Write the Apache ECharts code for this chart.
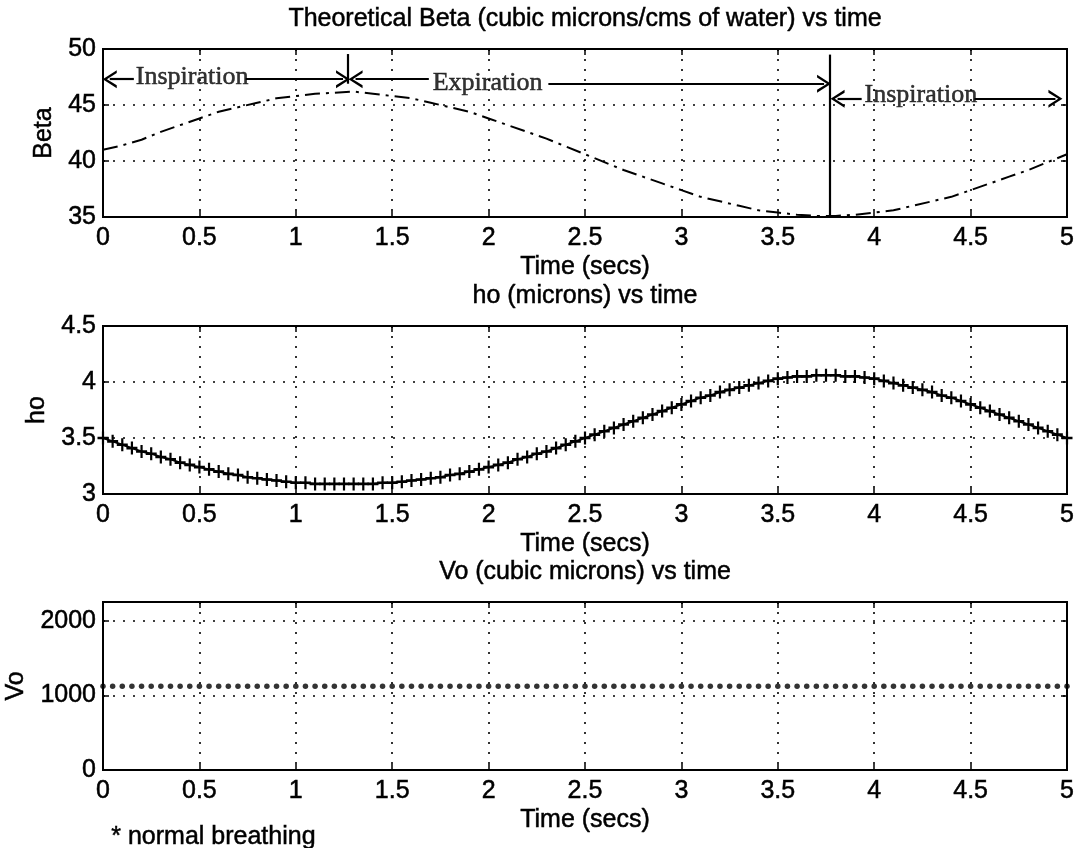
<!DOCTYPE html>
<html>
<head>
<meta charset="utf-8">
<script src="https://cdn.jsdelivr.net/npm/echarts@6/dist/echarts.min.js"></script>
<style>
  html, body { margin: 0; padding: 0; background: #fff; }
  #chart { width: 1078px; height: 848px; }
</style>
</head>
<body>
<div id="chart"></div>
<script>
// --- data ---
const T_BETA = [
  0, 0.1, 0.2, 0.3, 0.4, 0.5, 0.6, 0.7, 0.8, 0.9,
  1.0, 1.1, 1.2, 1.3, 1.4, 1.5, 1.6, 1.7, 1.8, 1.9,
  2.0, 2.1, 2.2, 2.3, 2.4, 2.5, 2.6, 2.7, 2.8, 2.9,
  3.0, 3.1, 3.2, 3.3, 3.4, 3.5, 3.6, 3.7, 3.8, 3.9,
  4.0, 4.1, 4.2, 4.3, 4.4, 4.5, 4.6, 4.7, 4.8, 4.9, 5.0
];
const BETA = [
  41.0, 41.4, 41.9, 42.6, 43.2, 43.8, 44.4, 44.8, 45.2, 45.6,
  45.8, 46.0, 46.1, 46.2, 46.0, 45.8, 45.6, 45.2, 44.8, 44.4,
  43.8, 43.2, 42.6, 42.0, 41.3, 40.6, 39.9, 39.2, 38.6, 38.0,
  37.4, 36.8, 36.4, 36.0, 35.6, 35.4, 35.2, 35.1, 35.1, 35.2,
  35.4, 35.6, 36.0, 36.4, 36.8, 37.4, 38.0, 38.6, 39.2, 39.9, 40.6
];

const T_FINE = [
  0, 0.05, 0.1, 0.15, 0.2, 0.25, 0.3, 0.35, 0.4, 0.45,
  0.5, 0.55, 0.6, 0.65, 0.7, 0.75, 0.8, 0.85, 0.9, 0.95,
  1.0, 1.05, 1.1, 1.15, 1.2, 1.25, 1.3, 1.35, 1.4, 1.45,
  1.5, 1.55, 1.6, 1.65, 1.7, 1.75, 1.8, 1.85, 1.9, 1.95,
  2.0, 2.05, 2.1, 2.15, 2.2, 2.25, 2.3, 2.35, 2.4, 2.45,
  2.5, 2.55, 2.6, 2.65, 2.7, 2.75, 2.8, 2.85, 2.9, 2.95,
  3.0, 3.05, 3.1, 3.15, 3.2, 3.25, 3.3, 3.35, 3.4, 3.45,
  3.5, 3.55, 3.6, 3.65, 3.7, 3.75, 3.8, 3.85, 3.9, 3.95,
  4.0, 4.05, 4.1, 4.15, 4.2, 4.25, 4.3, 4.35, 4.4, 4.45,
  4.5, 4.55, 4.6, 4.65, 4.7, 4.75, 4.8, 4.85, 4.9, 4.95, 5.0
];
const HO = [
  3.50, 3.47, 3.44, 3.41, 3.38, 3.36, 3.33, 3.31, 3.28, 3.26,
  3.24, 3.22, 3.20, 3.18, 3.17, 3.15, 3.14, 3.13, 3.12, 3.11,
  3.10, 3.10, 3.09, 3.09, 3.09, 3.09, 3.09, 3.09, 3.09, 3.10,
  3.10, 3.11, 3.12, 3.13, 3.14, 3.15, 3.17, 3.18, 3.20, 3.22,
  3.24, 3.26, 3.28, 3.31, 3.33, 3.36, 3.38, 3.41, 3.44, 3.47,
  3.50, 3.53, 3.56, 3.59, 3.62, 3.65, 3.68, 3.71, 3.74, 3.77,
  3.80, 3.83, 3.86, 3.88, 3.91, 3.93, 3.95, 3.97, 3.99, 4.01,
  4.03, 4.04, 4.05, 4.05, 4.06, 4.06, 4.06, 4.05, 4.05, 4.04,
  4.03, 4.01, 3.99, 3.97, 3.95, 3.93, 3.91, 3.88, 3.86, 3.83,
  3.80, 3.77, 3.74, 3.71, 3.68, 3.65, 3.62, 3.59, 3.56, 3.53, 3.50
];
const VO = [
  1120, 1120, 1120, 1120, 1120, 1120, 1120, 1120, 1120, 1120,
  1120, 1120, 1120, 1120, 1120, 1120, 1120, 1120, 1120, 1120,
  1120, 1120, 1120, 1120, 1120, 1120, 1120, 1120, 1120, 1120,
  1120, 1120, 1120, 1120, 1120, 1120, 1120, 1120, 1120, 1120,
  1120, 1120, 1120, 1120, 1120, 1120, 1120, 1120, 1120, 1120,
  1120, 1120, 1120, 1120, 1120, 1120, 1120, 1120, 1120, 1120,
  1120, 1120, 1120, 1120, 1120, 1120, 1120, 1120, 1120, 1120,
  1120, 1120, 1120, 1120, 1120, 1120, 1120, 1120, 1120, 1120,
  1120, 1120, 1120, 1120, 1120, 1120, 1120, 1120, 1120, 1120,
  1120, 1120, 1120, 1120, 1120, 1120, 1120, 1120, 1120, 1120, 1120
];

const TITLES = [
  "Theoretical Beta (cubic microns/cms of water) vs time",
  "ho (microns) vs time",
  "Vo (cubic microns) vs time",
];
const Y_NAMES = ["Beta", "ho", "Vo"];
const Y_RANGES = [[35, 50, 5], [3, 4.5, 0.5], [0, 2250, 1000]];  // min, max, interval
const X_NAME = "Time (secs)";
const FOOTNOTE = "* normal breathing";

// annotation on the Beta plot (time, beta)
const NOTE_TEXTS = [[0.17, 47.45, "Inspiration"], [1.71, 46.95, "Expiration"], [3.95, 45.85, "Inspiration"]];
const NOTE_ARROWS = [  // tail -> head
  [0.16, 47.3, 0.035, 47.3],
  [0.74, 47.3, 1.245, 47.3],
  [1.69, 47.3, 1.31, 47.3],
  [2.31, 46.9, 3.74, 46.9],
  [3.935, 45.55, 3.81, 45.55],
  [4.52, 45.55, 4.94, 45.55],
];
const NOTE_VLINES = [[1.27, 49.55, 46.9], [3.77, 49.5, 35]];

// --- layout ---
const SANS = '"Liberation Sans", Arial, Helvetica, sans-serif';
const SERIF = '"Liberation Serif", "Times New Roman", serif';
const GRID_TOPS = [49, 326, 602];
const GRID_H = 168;
const BLACK = "#000";
const CHEVRON = "path://M50,0 L100,100 L84,100 L50,30 L16,100 L0,100 Z";
const PLUS = "path://M40,0H60V40H100V60H60V100H40V60H0V40H40Z";

const chart = echarts.init(document.getElementById("chart"));

const axisLine = { show: true, onZero: false, lineStyle: { color: BLACK, width: 2 } };
const tick = { show: true, inside: true, length: 6, lineStyle: { color: BLACK, width: 1.5 } };
const dotted = { show: true, lineStyle: { color: BLACK, width: 1.6, type: [2, 8] } };
const labelStyle = {
  color: BLACK, fontFamily: SANS, fontSize: 25,
  textBorderColor: BLACK, textBorderWidth: 0.5,
};

// outerBoundsMode 'none': keep every grid at the same fixed box, whatever the label widths
const grids = GRID_TOPS.map(top => ({
  left: 103, right: 11, top, height: GRID_H, outerBoundsMode: "none",
  show: true, borderColor: BLACK, borderWidth: 2, backgroundColor: "#fff",
}));

const NAME_GAPS = [36, 46, 61];
const xAxes = [];
const yAxes = [];
for (let i = 0; i < 3; i++) {
  xAxes.push({
    gridIndex: i, type: "value", position: "bottom", min: 0, max: 5, interval: 0.5,
    name: X_NAME, nameLocation: "middle", nameGap: 38,
    nameTextStyle: { ...labelStyle },
    axisLine, axisTick: tick,
    axisLabel: { ...labelStyle, margin: 9 },
    splitLine: dotted,
  });
  const [min, max, interval] = Y_RANGES[i];
  yAxes.push({
    gridIndex: i, type: "value", position: "left", min, max, interval,
    name: Y_NAMES[i], nameLocation: "middle", nameGap: NAME_GAPS[i],
    nameTextStyle: { ...labelStyle },
    axisLine, axisTick: tick,
    axisLabel: { ...labelStyle, margin: 7, formatter: v => (v > 2000 && i === 2 ? "" : String(v)) },
    splitLine: dotted,
  });
}
for (let i = 0; i < 3; i++) {
  xAxes.push({
    gridIndex: i, type: "value", position: "top", min: 0, max: 5, interval: 0.5,
    axisLine, axisTick: tick, axisLabel: { show: false }, splitLine: { show: false },
  });
  const [min, max, interval] = Y_RANGES[i];
  yAxes.push({
    gridIndex: i, type: "value", position: "right", min, max, interval,
    axisLine, axisTick: tick, axisLabel: { show: false }, splitLine: { show: false },
  });
}

const zip = (xs, ys) => xs.map((x, k) => [x, ys[k]]);

chart.setOption({
  animation: false,
  title: TITLES.map((text, i) => ({
    text, left: 585, top: GRID_TOPS[i] - 42, textAlign: "center", padding: 0,
    textStyle: { ...labelStyle, fontWeight: "normal" },
  })),
  graphic: [{
    type: "text", left: 111, top: 824,
    style: { text: FOOTNOTE, fill: BLACK, font: `25px ${SANS}`, stroke: BLACK, lineWidth: 0.5 },
  }],
  grid: grids,
  xAxis: xAxes,
  yAxis: yAxes,
  series: [
    {
      name: "Beta", type: "line", xAxisIndex: 0, yAxisIndex: 0,
      data: zip(T_BETA, BETA), showSymbol: false, z: 3,
      lineStyle: { color: BLACK, width: 2, type: [15, 6, 3, 6] },
      markLine: {
        silent: true, symbol: "none", label: { show: false }, animation: false,
        lineStyle: { color: BLACK, width: 2.2, type: "solid" },
        data: NOTE_VLINES.map(([x, y1, y2]) => [{ coord: [x, y1] }, { coord: [x, y2] }]),
      },
    },
    {
      name: "notes", type: "scatter", xAxisIndex: 0, yAxisIndex: 0,
      data: NOTE_TEXTS, symbolSize: 0, silent: true,
      label: {
        show: true, position: "right", distance: 0, formatter: p => p.data[2],
        color: BLACK, fontFamily: SERIF, fontSize: 26,
        textBorderColor: BLACK, textBorderWidth: 0.5,
      },
      markLine: {
        silent: true, symbol: ["none", CHEVRON], symbolSize: [18, 14],
        label: { show: false }, animation: false,
        lineStyle: { color: BLACK, width: 2.2, type: "solid" },
        itemStyle: { color: BLACK },
        data: NOTE_ARROWS.map(([x1, y1, x2, y2]) => [{ coord: [x1, y1] }, { coord: [x2, y2] }]),
      },
    },
    {
      name: "ho", type: "line", xAxisIndex: 1, yAxisIndex: 1,
      data: zip(T_FINE, HO), symbol: PLUS, symbolSize: [11, 13], showAllSymbol: true,
      lineStyle: { color: BLACK, width: 2 }, itemStyle: { color: BLACK },
    },
    {
      name: "Vo", type: "scatter", xAxisIndex: 2, yAxisIndex: 2,
      data: zip(T_FINE, VO), symbolSize: 5.5, itemStyle: { color: BLACK },
    },
  ],
});
</script>
</body>
</html>
